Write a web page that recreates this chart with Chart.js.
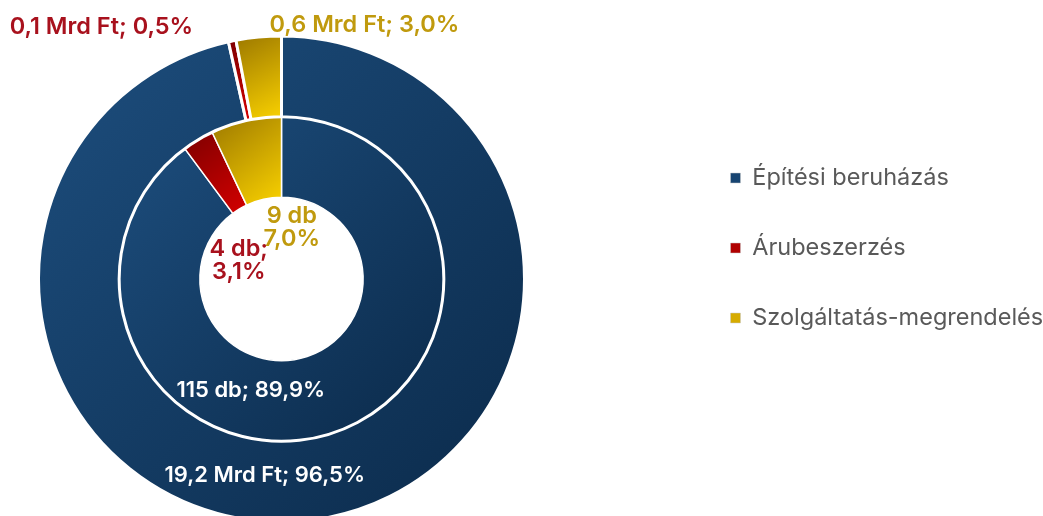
<!DOCTYPE html>
<html><head><meta charset="utf-8">
<script src="https://cdn.jsdelivr.net/npm/chart.js@4.4.1/dist/chart.umd.min.js"></script>
<style>
html,body{margin:0;padding:0;background:#fff;overflow:hidden;width:1043px;height:516px;}
#wrap{position:absolute;left:-121.5px;top:0;width:1164.5px;height:516px;}
</style></head><body>
<div id="wrap"><canvas id="c"></canvas></div>
<script>
// ---- data ----
const categories = ['Építési beruházás', 'Árubeszerzés', 'Szolgáltatás-megrendelés'];
const valueMrdFt = [19.2, 0.1, 0.6];      // outer ring, Mrd Ft
const valueShare = [96.5, 0.5, 3.0];      // outer ring, %
const countDb = [115, 4, 9];              // inner ring, db
const countShare = [89.9, 3.1, 7.0];      // inner ring, %
const innerFormats = ['{n} db; {p}%', '{n} db;\n{p}%', '{n} db\n{p}%'];

// ---- styles ----
const gradStops = [['#1d4e7e', '#0b2a4a'], ['#7e0000', '#d40000'], ['#9c7800', '#fad200']];
const legendFill = ['#174471', '#b00000', '#d6ab00'];
const labelColors = ['#ffffff', '#a8111d', '#c09a0e'];
const outerOffsets = [[-39, -5], [-139, -54], [102, -52]];
const innerOffsets = [[-69, -4], [20, 86], [37, 67]];
const outerSizes = [22, 23.5, 23.5];
const innerSizes = [22, 23.5, 23.5];
const labelLineH = 23;

const fmt = v => v.toFixed(1).replace('.', ',');
const outerTexts = valueMrdFt.map((v, i) => fmt(v) + ' Mrd Ft; ' + fmt(valueShare[i]) + '%');
const innerTexts = countDb.map((n, i) => innerFormats[i].replace('{n}', n).replace('{p}', fmt(countShare[i])));

function sliceGradient(c) {
  const stops = gradStops[c.dataIndex];
  const chart = c.chart, area = chart.chartArea;
  if (c.type !== 'data' || !area) return stops[0];
  const ctrl = chart.getDatasetMeta(c.datasetIndex).controller;
  const rO = ctrl.outerRadius, rI = ctrl.innerRadius;
  if (!isFinite(rO) || !isFinite(rI)) return stops[0];
  const data = chart.data.datasets[c.datasetIndex].data;
  const total = data.reduce((a, b) => a + b, 0);
  let before = 0;
  for (let k = 0; k < c.dataIndex; k++) before += data[k];
  const a0 = -Math.PI / 2 + 2 * Math.PI * before / total;
  const a1 = a0 + 2 * Math.PI * data[c.dataIndex] / total;
  const cx = (area.left + area.right) / 2, cy = (area.top + area.bottom) / 2;
  let x0 = Infinity, y0 = Infinity, x1 = -Infinity, y1 = -Infinity;
  for (let s = 0; s <= 90; s++) {
    const a = a0 + (a1 - a0) * s / 90;
    for (const r of [rI, rO]) {
      const x = cx + Math.cos(a) * r, y = cy + Math.sin(a) * r;
      x0 = Math.min(x0, x); y0 = Math.min(y0, y); x1 = Math.max(x1, x); y1 = Math.max(y1, y);
    }
  }
  const g = chart.ctx.createLinearGradient(x0, y0, x1, y1);
  g.addColorStop(0, stops[0]);
  g.addColorStop(1, stops[1]);
  return g;
}

const sliceLabels = {
  id: 'sliceLabels',
  afterDatasetsDraw(chart) {
    const ctx = chart.ctx;
    ctx.save();
    ctx.textAlign = 'center';
    ctx.textBaseline = 'middle';
    [[outerTexts, outerOffsets, outerSizes], [innerTexts, innerOffsets, innerSizes]].forEach(([texts, offs, sizes], di) => {
      chart.getDatasetMeta(di).data.forEach((arc, i) => {
        const p = arc.tooltipPosition();
        const lines = texts[i].split('\n');
        const x = p.x + offs[i][0];
        const y = p.y + offs[i][1] - (lines.length - 1) * labelLineH / 2;
        ctx.font = '600 ' + sizes[i] + 'px Inter';
        ctx.fillStyle = labelColors[i];
        lines.forEach((ln, k) => ctx.fillText(ln, x, y + k * labelLineH));
      });
    });
    ctx.restore();
  }
};

new Chart(document.getElementById('c'), {
  type: 'doughnut',
  data: {
    labels: categories,
    datasets: [
      { data: valueShare, backgroundColor: sliceGradient, borderColor: '#ffffff', borderWidth: 3, clip: false },
      { data: countDb, backgroundColor: sliceGradient, borderColor: '#ffffff', borderWidth: 1.5, clip: false }
    ]
  },
  options: {
    responsive: true,
    maintainAspectRatio: false,
    animation: false,
    events: [],
    radius: 243,
    cutout: '33.6%',
    layout: { padding: { top: 119.75, bottom: 77.75, left: 0, right: 0 } },
    plugins: {
      tooltip: { enabled: false },
      legend: {
        position: 'right',
        align: 'start',
        maxWidth: 359.5,
        labels: {
          boxWidth: 10,
          boxHeight: 10,
          padding: 46.5,
          color: '#595959',
          font: { family: 'Inter', size: 23.5 },
          generateLabels: (chart) => categories.map((t, i) => ({
            text: t, fillStyle: legendFill[i], strokeStyle: '#c8c8c8', lineWidth: 0.5,
            fontColor: '#595959', hidden: false, index: i, datasetIndex: 0
          }))
        }
      }
    }
  },
  plugins: [sliceLabels]
});
</script>
</body></html>
